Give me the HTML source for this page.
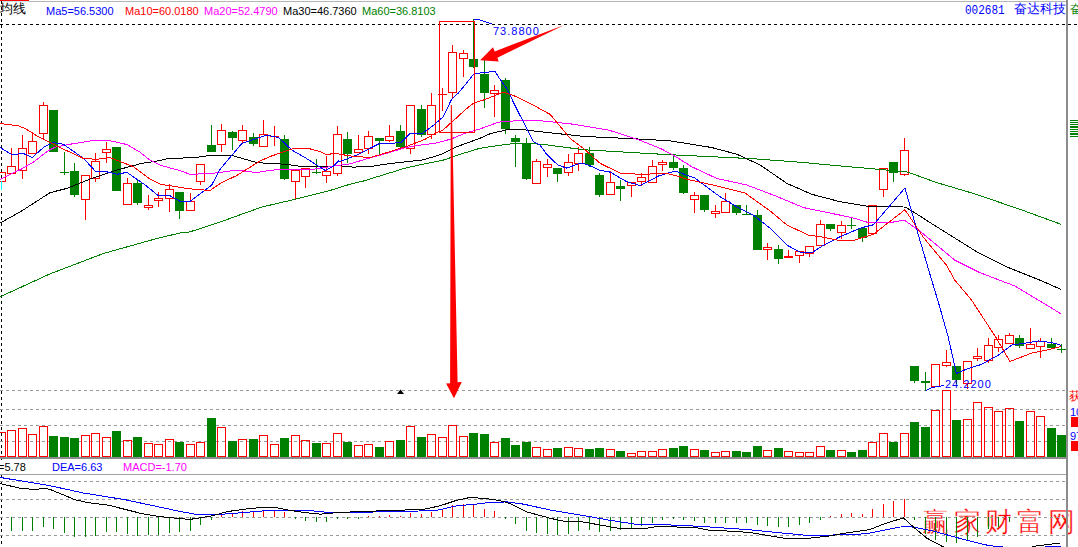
<!DOCTYPE html>
<html><head><meta charset="utf-8">
<style>
html,body{margin:0;padding:0;background:#fff;}
body{width:1078px;height:547px;overflow:hidden;position:relative;font-family:"Liberation Sans", sans-serif;}
svg{position:absolute;left:0;top:0;shape-rendering:crispEdges;}
.t{position:absolute;white-space:nowrap;font-size:11px;line-height:12px;font-family:"Liberation Sans", sans-serif;}
.cj{position:absolute;white-space:nowrap;font-size:12px;line-height:12px;}
</style></head><body>
<div class="cj" style="left:922px;top:508px;font-size:27px;line-height:28px;letter-spacing:4.5px;color:#ff0000;font-family:'Liberation Serif',serif;-webkit-text-stroke:0.35px #fff">赢家财富网</div>
<svg width="1078" height="547" viewBox="0 0 1078 547">
<rect x="0" y="1" width="1066" height="1" fill="#b4b4b4"/>
<rect x="0" y="0" width="29" height="1" fill="#ff0000"/>
<rect x="0" y="1" width="29" height="1" fill="#cfe6e6"/>
<line x1="0" y1="24.5" x2="1078" y2="24.5" stroke="#000000" stroke-width="1" stroke-dasharray="3 3" stroke-dashoffset="0"/>
<line x1="1.5" y1="1" x2="1.5" y2="547" stroke="#000000" stroke-width="1" stroke-dasharray="3 3"/>
<line x1="0" y1="390.5" x2="1066" y2="390.5" stroke="#999999" stroke-width="1" stroke-dasharray="3 3" stroke-dashoffset="0"/>
<line x1="0" y1="409.5" x2="1066" y2="409.5" stroke="#999999" stroke-width="1" stroke-dasharray="3 3" stroke-dashoffset="0"/>
<line x1="0" y1="425.5" x2="1066" y2="425.5" stroke="#999999" stroke-width="1" stroke-dasharray="3 3" stroke-dashoffset="0"/>
<line x1="0" y1="441.5" x2="1066" y2="441.5" stroke="#999999" stroke-width="1" stroke-dasharray="3 3" stroke-dashoffset="0"/>
<line x1="0" y1="481.5" x2="1066" y2="481.5" stroke="#999999" stroke-width="1" stroke-dasharray="3 3" stroke-dashoffset="0"/>
<line x1="0" y1="499.5" x2="1066" y2="499.5" stroke="#999999" stroke-width="1" stroke-dasharray="3 3" stroke-dashoffset="0"/>
<line x1="0" y1="517.5" x2="1066" y2="517.5" stroke="#999999" stroke-width="1" stroke-dasharray="3 3" stroke-dashoffset="0"/>
<line x1="0" y1="535.5" x2="1066" y2="535.5" stroke="#999999" stroke-width="1" stroke-dasharray="3 3" stroke-dashoffset="0"/>
<rect x="-3" y="172" width="9" height="1" fill="#ff0000"/>
<rect x="-3" y="181" width="9" height="1" fill="#ff0000"/>
<rect x="-3" y="172" width="1" height="10" fill="#ff0000"/>
<rect x="5" y="172" width="1" height="10" fill="#ff0000"/>
<rect x="11" y="148" width="1" height="19" fill="#ff0000"/>
<rect x="7" y="166" width="9" height="1" fill="#ff0000"/>
<rect x="7" y="173" width="9" height="1" fill="#ff0000"/>
<rect x="7" y="166" width="1" height="8" fill="#ff0000"/>
<rect x="15" y="166" width="1" height="8" fill="#ff0000"/>
<rect x="22" y="135" width="1" height="14" fill="#ff0000"/>
<rect x="22" y="170" width="1" height="9" fill="#ff0000"/>
<rect x="18" y="148" width="9" height="1" fill="#ff0000"/>
<rect x="18" y="170" width="9" height="1" fill="#ff0000"/>
<rect x="18" y="148" width="1" height="23" fill="#ff0000"/>
<rect x="26" y="148" width="1" height="23" fill="#ff0000"/>
<rect x="32" y="134" width="1" height="8" fill="#ff0000"/>
<rect x="28" y="141" width="9" height="1" fill="#ff0000"/>
<rect x="28" y="153" width="9" height="1" fill="#ff0000"/>
<rect x="28" y="141" width="1" height="13" fill="#ff0000"/>
<rect x="36" y="141" width="1" height="13" fill="#ff0000"/>
<rect x="43" y="102" width="1" height="4" fill="#ff0000"/>
<rect x="43" y="133" width="1" height="7" fill="#ff0000"/>
<rect x="39" y="105" width="9" height="1" fill="#ff0000"/>
<rect x="39" y="133" width="9" height="1" fill="#ff0000"/>
<rect x="39" y="105" width="1" height="29" fill="#ff0000"/>
<rect x="47" y="105" width="1" height="29" fill="#ff0000"/>
<rect x="49" y="110" width="9" height="42" fill="#008000"/>
<rect x="64" y="152" width="1" height="21" fill="#008000"/>
<rect x="64" y="172" width="1" height="3" fill="#008000"/>
<rect x="60" y="172" width="9" height="1" fill="#008000"/>
<rect x="74" y="163" width="1" height="9" fill="#008000"/>
<rect x="74" y="194" width="1" height="3" fill="#008000"/>
<rect x="70" y="171" width="9" height="24" fill="#008000"/>
<rect x="85" y="199" width="1" height="21" fill="#ff0000"/>
<rect x="81" y="175" width="9" height="1" fill="#ff0000"/>
<rect x="81" y="199" width="9" height="1" fill="#ff0000"/>
<rect x="81" y="175" width="1" height="25" fill="#ff0000"/>
<rect x="89" y="175" width="1" height="25" fill="#ff0000"/>
<rect x="95" y="153" width="1" height="9" fill="#ff0000"/>
<rect x="95" y="178" width="1" height="4" fill="#ff0000"/>
<rect x="91" y="161" width="9" height="1" fill="#ff0000"/>
<rect x="91" y="178" width="9" height="1" fill="#ff0000"/>
<rect x="91" y="161" width="1" height="18" fill="#ff0000"/>
<rect x="99" y="161" width="1" height="18" fill="#ff0000"/>
<rect x="106" y="142" width="1" height="8" fill="#ff0000"/>
<rect x="106" y="152" width="1" height="11" fill="#ff0000"/>
<rect x="102" y="149" width="9" height="1" fill="#ff0000"/>
<rect x="102" y="152" width="9" height="1" fill="#ff0000"/>
<rect x="102" y="149" width="1" height="4" fill="#ff0000"/>
<rect x="110" y="149" width="1" height="4" fill="#ff0000"/>
<rect x="112" y="147" width="9" height="44" fill="#008000"/>
<rect x="127" y="178" width="1" height="6" fill="#ff0000"/>
<rect x="123" y="183" width="9" height="1" fill="#ff0000"/>
<rect x="123" y="204" width="9" height="1" fill="#ff0000"/>
<rect x="123" y="183" width="1" height="22" fill="#ff0000"/>
<rect x="131" y="183" width="1" height="22" fill="#ff0000"/>
<rect x="137" y="180" width="1" height="4" fill="#008000"/>
<rect x="137" y="202" width="1" height="3" fill="#008000"/>
<rect x="133" y="183" width="9" height="20" fill="#008000"/>
<rect x="148" y="195" width="1" height="11" fill="#ff0000"/>
<rect x="148" y="207" width="1" height="3" fill="#ff0000"/>
<rect x="144" y="205" width="9" height="1" fill="#ff0000"/>
<rect x="144" y="207" width="9" height="1" fill="#ff0000"/>
<rect x="144" y="205" width="1" height="3" fill="#ff0000"/>
<rect x="152" y="205" width="1" height="3" fill="#ff0000"/>
<rect x="158" y="192" width="1" height="7" fill="#ff0000"/>
<rect x="158" y="200" width="1" height="7" fill="#ff0000"/>
<rect x="154" y="198" width="9" height="1" fill="#ff0000"/>
<rect x="154" y="200" width="9" height="1" fill="#ff0000"/>
<rect x="154" y="198" width="1" height="3" fill="#ff0000"/>
<rect x="162" y="198" width="1" height="3" fill="#ff0000"/>
<rect x="169" y="184" width="1" height="6" fill="#ff0000"/>
<rect x="169" y="198" width="1" height="14" fill="#ff0000"/>
<rect x="165" y="189" width="9" height="1" fill="#ff0000"/>
<rect x="165" y="198" width="9" height="1" fill="#ff0000"/>
<rect x="165" y="189" width="1" height="10" fill="#ff0000"/>
<rect x="173" y="189" width="1" height="10" fill="#ff0000"/>
<rect x="179" y="210" width="1" height="9" fill="#008000"/>
<rect x="175" y="192" width="9" height="19" fill="#008000"/>
<rect x="190" y="193" width="1" height="9" fill="#ff0000"/>
<rect x="186" y="201" width="9" height="1" fill="#ff0000"/>
<rect x="186" y="210" width="9" height="1" fill="#ff0000"/>
<rect x="186" y="201" width="1" height="10" fill="#ff0000"/>
<rect x="194" y="201" width="1" height="10" fill="#ff0000"/>
<rect x="200" y="181" width="1" height="4" fill="#ff0000"/>
<rect x="196" y="164" width="9" height="1" fill="#ff0000"/>
<rect x="196" y="181" width="9" height="1" fill="#ff0000"/>
<rect x="196" y="164" width="1" height="18" fill="#ff0000"/>
<rect x="204" y="164" width="1" height="18" fill="#ff0000"/>
<rect x="211" y="125" width="1" height="21" fill="#008000"/>
<rect x="207" y="145" width="9" height="7" fill="#008000"/>
<rect x="221" y="124" width="1" height="7" fill="#ff0000"/>
<rect x="221" y="144" width="1" height="8" fill="#ff0000"/>
<rect x="217" y="130" width="9" height="1" fill="#ff0000"/>
<rect x="217" y="144" width="9" height="1" fill="#ff0000"/>
<rect x="217" y="130" width="1" height="15" fill="#ff0000"/>
<rect x="225" y="130" width="1" height="15" fill="#ff0000"/>
<rect x="232" y="131" width="1" height="2" fill="#008000"/>
<rect x="232" y="137" width="1" height="13" fill="#008000"/>
<rect x="228" y="132" width="9" height="6" fill="#008000"/>
<rect x="242" y="125" width="1" height="6" fill="#ff0000"/>
<rect x="242" y="140" width="1" height="4" fill="#ff0000"/>
<rect x="238" y="130" width="9" height="1" fill="#ff0000"/>
<rect x="238" y="140" width="9" height="1" fill="#ff0000"/>
<rect x="238" y="130" width="1" height="11" fill="#ff0000"/>
<rect x="246" y="130" width="1" height="11" fill="#ff0000"/>
<rect x="253" y="133" width="1" height="5" fill="#008000"/>
<rect x="253" y="143" width="1" height="3" fill="#008000"/>
<rect x="249" y="137" width="9" height="7" fill="#008000"/>
<rect x="263" y="120" width="1" height="15" fill="#ff0000"/>
<rect x="259" y="134" width="9" height="1" fill="#ff0000"/>
<rect x="259" y="146" width="9" height="1" fill="#ff0000"/>
<rect x="259" y="134" width="1" height="13" fill="#ff0000"/>
<rect x="267" y="134" width="1" height="13" fill="#ff0000"/>
<rect x="274" y="126" width="1" height="11" fill="#ff0000"/>
<rect x="274" y="136" width="1" height="10" fill="#ff0000"/>
<rect x="270" y="136" width="9" height="1" fill="#ff0000"/>
<rect x="284" y="135" width="1" height="5" fill="#008000"/>
<rect x="284" y="178" width="1" height="2" fill="#008000"/>
<rect x="280" y="139" width="9" height="40" fill="#008000"/>
<rect x="295" y="181" width="1" height="19" fill="#ff0000"/>
<rect x="291" y="170" width="9" height="1" fill="#ff0000"/>
<rect x="291" y="181" width="9" height="1" fill="#ff0000"/>
<rect x="291" y="170" width="1" height="12" fill="#ff0000"/>
<rect x="299" y="170" width="1" height="12" fill="#ff0000"/>
<rect x="305" y="176" width="1" height="12" fill="#ff0000"/>
<rect x="301" y="168" width="9" height="1" fill="#ff0000"/>
<rect x="301" y="176" width="9" height="1" fill="#ff0000"/>
<rect x="301" y="168" width="1" height="9" fill="#ff0000"/>
<rect x="309" y="168" width="1" height="9" fill="#ff0000"/>
<rect x="316" y="159" width="1" height="14" fill="#008000"/>
<rect x="316" y="172" width="1" height="2" fill="#008000"/>
<rect x="312" y="172" width="9" height="1" fill="#008000"/>
<rect x="326" y="156" width="1" height="16" fill="#ff0000"/>
<rect x="326" y="175" width="1" height="8" fill="#ff0000"/>
<rect x="322" y="171" width="9" height="1" fill="#ff0000"/>
<rect x="322" y="175" width="9" height="1" fill="#ff0000"/>
<rect x="322" y="171" width="1" height="5" fill="#ff0000"/>
<rect x="330" y="171" width="1" height="5" fill="#ff0000"/>
<rect x="337" y="126" width="1" height="9" fill="#ff0000"/>
<rect x="337" y="173" width="1" height="3" fill="#ff0000"/>
<rect x="333" y="134" width="9" height="1" fill="#ff0000"/>
<rect x="333" y="173" width="9" height="1" fill="#ff0000"/>
<rect x="333" y="134" width="1" height="40" fill="#ff0000"/>
<rect x="341" y="134" width="1" height="40" fill="#ff0000"/>
<rect x="347" y="132" width="1" height="8" fill="#008000"/>
<rect x="347" y="153" width="1" height="10" fill="#008000"/>
<rect x="343" y="139" width="9" height="15" fill="#008000"/>
<rect x="358" y="135" width="1" height="15" fill="#ff0000"/>
<rect x="354" y="149" width="9" height="1" fill="#ff0000"/>
<rect x="354" y="152" width="9" height="1" fill="#ff0000"/>
<rect x="354" y="149" width="1" height="4" fill="#ff0000"/>
<rect x="362" y="149" width="1" height="4" fill="#ff0000"/>
<rect x="368" y="131" width="1" height="6" fill="#ff0000"/>
<rect x="368" y="148" width="1" height="6" fill="#ff0000"/>
<rect x="364" y="136" width="9" height="1" fill="#ff0000"/>
<rect x="364" y="148" width="9" height="1" fill="#ff0000"/>
<rect x="364" y="136" width="1" height="13" fill="#ff0000"/>
<rect x="372" y="136" width="1" height="13" fill="#ff0000"/>
<rect x="379" y="140" width="1" height="15" fill="#008000"/>
<rect x="375" y="138" width="9" height="3" fill="#008000"/>
<rect x="389" y="125" width="1" height="12" fill="#ff0000"/>
<rect x="389" y="140" width="1" height="2" fill="#ff0000"/>
<rect x="385" y="136" width="9" height="1" fill="#ff0000"/>
<rect x="385" y="140" width="9" height="1" fill="#ff0000"/>
<rect x="385" y="136" width="1" height="5" fill="#ff0000"/>
<rect x="393" y="136" width="1" height="5" fill="#ff0000"/>
<rect x="400" y="125" width="1" height="7" fill="#008000"/>
<rect x="400" y="146" width="1" height="3" fill="#008000"/>
<rect x="396" y="131" width="9" height="16" fill="#008000"/>
<rect x="410" y="148" width="1" height="6" fill="#ff0000"/>
<rect x="406" y="105" width="9" height="1" fill="#ff0000"/>
<rect x="406" y="148" width="9" height="1" fill="#ff0000"/>
<rect x="406" y="105" width="1" height="44" fill="#ff0000"/>
<rect x="414" y="105" width="1" height="44" fill="#ff0000"/>
<rect x="421" y="105" width="1" height="5" fill="#008000"/>
<rect x="421" y="134" width="1" height="3" fill="#008000"/>
<rect x="417" y="109" width="9" height="26" fill="#008000"/>
<rect x="431" y="93" width="1" height="13" fill="#ff0000"/>
<rect x="431" y="134" width="1" height="5" fill="#ff0000"/>
<rect x="427" y="105" width="9" height="1" fill="#ff0000"/>
<rect x="427" y="134" width="9" height="1" fill="#ff0000"/>
<rect x="427" y="105" width="1" height="30" fill="#ff0000"/>
<rect x="435" y="105" width="1" height="30" fill="#ff0000"/>
<rect x="442" y="88" width="1" height="7" fill="#ff0000"/>
<rect x="442" y="94" width="1" height="17" fill="#ff0000"/>
<rect x="438" y="94" width="9" height="1" fill="#ff0000"/>
<rect x="452" y="45" width="1" height="8" fill="#ff0000"/>
<rect x="452" y="92" width="1" height="6" fill="#ff0000"/>
<rect x="448" y="52" width="9" height="1" fill="#ff0000"/>
<rect x="448" y="92" width="9" height="1" fill="#ff0000"/>
<rect x="448" y="52" width="1" height="41" fill="#ff0000"/>
<rect x="456" y="52" width="1" height="41" fill="#ff0000"/>
<rect x="463" y="50" width="1" height="4" fill="#ff0000"/>
<rect x="463" y="58" width="1" height="19" fill="#ff0000"/>
<rect x="459" y="53" width="9" height="1" fill="#ff0000"/>
<rect x="459" y="58" width="9" height="1" fill="#ff0000"/>
<rect x="459" y="53" width="1" height="6" fill="#ff0000"/>
<rect x="467" y="53" width="1" height="6" fill="#ff0000"/>
<rect x="473" y="19" width="1" height="41" fill="#008000"/>
<rect x="473" y="66" width="1" height="2" fill="#008000"/>
<rect x="469" y="59" width="9" height="8" fill="#008000"/>
<rect x="484" y="60" width="1" height="14" fill="#008000"/>
<rect x="484" y="92" width="1" height="16" fill="#008000"/>
<rect x="480" y="74" width="9" height="19" fill="#008000"/>
<rect x="494" y="85" width="1" height="6" fill="#ff0000"/>
<rect x="494" y="93" width="1" height="24" fill="#ff0000"/>
<rect x="490" y="90" width="9" height="1" fill="#ff0000"/>
<rect x="490" y="93" width="9" height="1" fill="#ff0000"/>
<rect x="490" y="90" width="1" height="4" fill="#ff0000"/>
<rect x="498" y="90" width="1" height="4" fill="#ff0000"/>
<rect x="505" y="78" width="1" height="3" fill="#008000"/>
<rect x="505" y="128" width="1" height="6" fill="#008000"/>
<rect x="501" y="80" width="9" height="49" fill="#008000"/>
<rect x="515" y="135" width="1" height="4" fill="#008000"/>
<rect x="515" y="141" width="1" height="26" fill="#008000"/>
<rect x="511" y="138" width="9" height="4" fill="#008000"/>
<rect x="526" y="138" width="1" height="6" fill="#008000"/>
<rect x="526" y="178" width="1" height="2" fill="#008000"/>
<rect x="522" y="143" width="9" height="36" fill="#008000"/>
<rect x="536" y="159" width="1" height="3" fill="#ff0000"/>
<rect x="532" y="161" width="9" height="1" fill="#ff0000"/>
<rect x="532" y="183" width="9" height="1" fill="#ff0000"/>
<rect x="532" y="161" width="1" height="23" fill="#ff0000"/>
<rect x="540" y="161" width="1" height="23" fill="#ff0000"/>
<rect x="547" y="159" width="1" height="6" fill="#ff0000"/>
<rect x="547" y="167" width="1" height="10" fill="#ff0000"/>
<rect x="543" y="164" width="9" height="1" fill="#ff0000"/>
<rect x="543" y="167" width="9" height="1" fill="#ff0000"/>
<rect x="543" y="164" width="1" height="4" fill="#ff0000"/>
<rect x="551" y="164" width="1" height="4" fill="#ff0000"/>
<rect x="557" y="173" width="1" height="9" fill="#008000"/>
<rect x="553" y="168" width="9" height="6" fill="#008000"/>
<rect x="568" y="154" width="1" height="9" fill="#ff0000"/>
<rect x="568" y="172" width="1" height="4" fill="#ff0000"/>
<rect x="564" y="162" width="9" height="1" fill="#ff0000"/>
<rect x="564" y="172" width="9" height="1" fill="#ff0000"/>
<rect x="564" y="162" width="1" height="11" fill="#ff0000"/>
<rect x="572" y="162" width="1" height="11" fill="#ff0000"/>
<rect x="578" y="147" width="1" height="7" fill="#ff0000"/>
<rect x="578" y="163" width="1" height="8" fill="#ff0000"/>
<rect x="574" y="153" width="9" height="1" fill="#ff0000"/>
<rect x="574" y="163" width="9" height="1" fill="#ff0000"/>
<rect x="574" y="153" width="1" height="11" fill="#ff0000"/>
<rect x="582" y="153" width="1" height="11" fill="#ff0000"/>
<rect x="589" y="147" width="1" height="7" fill="#008000"/>
<rect x="589" y="164" width="1" height="3" fill="#008000"/>
<rect x="585" y="153" width="9" height="12" fill="#008000"/>
<rect x="599" y="173" width="1" height="3" fill="#008000"/>
<rect x="599" y="194" width="1" height="3" fill="#008000"/>
<rect x="595" y="175" width="9" height="20" fill="#008000"/>
<rect x="610" y="171" width="1" height="12" fill="#ff0000"/>
<rect x="606" y="182" width="9" height="1" fill="#ff0000"/>
<rect x="606" y="194" width="9" height="1" fill="#ff0000"/>
<rect x="606" y="182" width="1" height="13" fill="#ff0000"/>
<rect x="614" y="182" width="1" height="13" fill="#ff0000"/>
<rect x="620" y="180" width="1" height="7" fill="#008000"/>
<rect x="620" y="188" width="1" height="13" fill="#008000"/>
<rect x="616" y="186" width="9" height="3" fill="#008000"/>
<rect x="631" y="185" width="1" height="12" fill="#ff0000"/>
<rect x="627" y="182" width="9" height="1" fill="#ff0000"/>
<rect x="627" y="185" width="9" height="1" fill="#ff0000"/>
<rect x="627" y="182" width="1" height="4" fill="#ff0000"/>
<rect x="635" y="182" width="1" height="4" fill="#ff0000"/>
<rect x="641" y="173" width="1" height="5" fill="#ff0000"/>
<rect x="641" y="181" width="1" height="5" fill="#ff0000"/>
<rect x="637" y="177" width="9" height="1" fill="#ff0000"/>
<rect x="637" y="181" width="9" height="1" fill="#ff0000"/>
<rect x="637" y="177" width="1" height="5" fill="#ff0000"/>
<rect x="645" y="177" width="1" height="5" fill="#ff0000"/>
<rect x="652" y="160" width="1" height="7" fill="#ff0000"/>
<rect x="648" y="166" width="9" height="1" fill="#ff0000"/>
<rect x="648" y="182" width="9" height="1" fill="#ff0000"/>
<rect x="648" y="166" width="1" height="17" fill="#ff0000"/>
<rect x="656" y="166" width="1" height="17" fill="#ff0000"/>
<rect x="662" y="160" width="1" height="3" fill="#ff0000"/>
<rect x="662" y="164" width="1" height="7" fill="#ff0000"/>
<rect x="658" y="162" width="9" height="1" fill="#ff0000"/>
<rect x="658" y="164" width="9" height="1" fill="#ff0000"/>
<rect x="658" y="162" width="1" height="3" fill="#ff0000"/>
<rect x="666" y="162" width="1" height="3" fill="#ff0000"/>
<rect x="673" y="155" width="1" height="8" fill="#008000"/>
<rect x="673" y="167" width="1" height="3" fill="#008000"/>
<rect x="669" y="162" width="9" height="6" fill="#008000"/>
<rect x="683" y="165" width="1" height="4" fill="#008000"/>
<rect x="683" y="192" width="1" height="2" fill="#008000"/>
<rect x="679" y="168" width="9" height="25" fill="#008000"/>
<rect x="694" y="192" width="1" height="4" fill="#ff0000"/>
<rect x="694" y="199" width="1" height="14" fill="#ff0000"/>
<rect x="690" y="195" width="9" height="1" fill="#ff0000"/>
<rect x="690" y="199" width="9" height="1" fill="#ff0000"/>
<rect x="690" y="195" width="1" height="5" fill="#ff0000"/>
<rect x="698" y="195" width="1" height="5" fill="#ff0000"/>
<rect x="704" y="209" width="1" height="3" fill="#008000"/>
<rect x="700" y="195" width="9" height="15" fill="#008000"/>
<rect x="715" y="205" width="1" height="7" fill="#ff0000"/>
<rect x="715" y="213" width="1" height="5" fill="#ff0000"/>
<rect x="711" y="211" width="9" height="1" fill="#ff0000"/>
<rect x="711" y="213" width="9" height="1" fill="#ff0000"/>
<rect x="711" y="211" width="1" height="3" fill="#ff0000"/>
<rect x="719" y="211" width="1" height="3" fill="#ff0000"/>
<rect x="725" y="193" width="1" height="9" fill="#ff0000"/>
<rect x="721" y="201" width="9" height="1" fill="#ff0000"/>
<rect x="721" y="212" width="9" height="1" fill="#ff0000"/>
<rect x="721" y="201" width="1" height="12" fill="#ff0000"/>
<rect x="729" y="201" width="1" height="12" fill="#ff0000"/>
<rect x="736" y="212" width="1" height="3" fill="#008000"/>
<rect x="732" y="205" width="9" height="8" fill="#008000"/>
<rect x="746" y="205" width="1" height="10" fill="#008000"/>
<rect x="742" y="214" width="9" height="1" fill="#008000"/>
<rect x="757" y="210" width="1" height="6" fill="#008000"/>
<rect x="753" y="215" width="9" height="35" fill="#008000"/>
<rect x="767" y="243" width="1" height="5" fill="#ff0000"/>
<rect x="767" y="249" width="1" height="11" fill="#ff0000"/>
<rect x="763" y="247" width="9" height="1" fill="#ff0000"/>
<rect x="763" y="249" width="9" height="1" fill="#ff0000"/>
<rect x="763" y="247" width="1" height="3" fill="#ff0000"/>
<rect x="771" y="247" width="1" height="3" fill="#ff0000"/>
<rect x="778" y="245" width="1" height="5" fill="#008000"/>
<rect x="778" y="258" width="1" height="6" fill="#008000"/>
<rect x="774" y="249" width="9" height="10" fill="#008000"/>
<rect x="788" y="250" width="1" height="7" fill="#ff0000"/>
<rect x="784" y="256" width="9" height="2" fill="#ff0000"/>
<rect x="799" y="255" width="1" height="8" fill="#ff0000"/>
<rect x="795" y="251" width="9" height="1" fill="#ff0000"/>
<rect x="795" y="255" width="9" height="1" fill="#ff0000"/>
<rect x="795" y="251" width="1" height="5" fill="#ff0000"/>
<rect x="803" y="251" width="1" height="5" fill="#ff0000"/>
<rect x="809" y="253" width="1" height="4" fill="#ff0000"/>
<rect x="805" y="246" width="9" height="1" fill="#ff0000"/>
<rect x="805" y="253" width="9" height="1" fill="#ff0000"/>
<rect x="805" y="246" width="1" height="8" fill="#ff0000"/>
<rect x="813" y="246" width="1" height="8" fill="#ff0000"/>
<rect x="820" y="220" width="1" height="5" fill="#ff0000"/>
<rect x="816" y="224" width="9" height="1" fill="#ff0000"/>
<rect x="816" y="245" width="9" height="1" fill="#ff0000"/>
<rect x="816" y="224" width="1" height="22" fill="#ff0000"/>
<rect x="824" y="224" width="1" height="22" fill="#ff0000"/>
<rect x="830" y="228" width="1" height="3" fill="#008000"/>
<rect x="826" y="224" width="9" height="5" fill="#008000"/>
<rect x="841" y="221" width="1" height="5" fill="#ff0000"/>
<rect x="841" y="232" width="1" height="7" fill="#ff0000"/>
<rect x="837" y="225" width="9" height="1" fill="#ff0000"/>
<rect x="837" y="232" width="9" height="1" fill="#ff0000"/>
<rect x="837" y="225" width="1" height="8" fill="#ff0000"/>
<rect x="845" y="225" width="1" height="8" fill="#ff0000"/>
<rect x="851" y="218" width="1" height="8" fill="#008000"/>
<rect x="851" y="225" width="1" height="4" fill="#008000"/>
<rect x="847" y="225" width="9" height="1" fill="#008000"/>
<rect x="862" y="237" width="1" height="5" fill="#008000"/>
<rect x="858" y="228" width="9" height="10" fill="#008000"/>
<rect x="868" y="205" width="9" height="1" fill="#ff0000"/>
<rect x="868" y="233" width="9" height="1" fill="#ff0000"/>
<rect x="868" y="205" width="1" height="29" fill="#ff0000"/>
<rect x="876" y="205" width="1" height="29" fill="#ff0000"/>
<rect x="883" y="189" width="1" height="8" fill="#ff0000"/>
<rect x="879" y="168" width="9" height="1" fill="#ff0000"/>
<rect x="879" y="189" width="9" height="1" fill="#ff0000"/>
<rect x="879" y="168" width="1" height="22" fill="#ff0000"/>
<rect x="887" y="168" width="1" height="22" fill="#ff0000"/>
<rect x="893" y="172" width="1" height="10" fill="#008000"/>
<rect x="889" y="162" width="9" height="11" fill="#008000"/>
<rect x="904" y="138" width="1" height="13" fill="#ff0000"/>
<rect x="904" y="174" width="1" height="2" fill="#ff0000"/>
<rect x="900" y="150" width="9" height="1" fill="#ff0000"/>
<rect x="900" y="174" width="9" height="1" fill="#ff0000"/>
<rect x="900" y="150" width="1" height="25" fill="#ff0000"/>
<rect x="908" y="150" width="1" height="25" fill="#ff0000"/>
<rect x="914" y="380" width="1" height="3" fill="#008000"/>
<rect x="910" y="366" width="9" height="15" fill="#008000"/>
<rect x="925" y="372" width="1" height="10" fill="#008000"/>
<rect x="925" y="381" width="1" height="10" fill="#008000"/>
<rect x="921" y="381" width="9" height="2" fill="#008000"/>
<rect x="931" y="364" width="9" height="1" fill="#ff0000"/>
<rect x="931" y="386" width="9" height="1" fill="#ff0000"/>
<rect x="931" y="364" width="1" height="23" fill="#ff0000"/>
<rect x="939" y="364" width="1" height="23" fill="#ff0000"/>
<rect x="946" y="350" width="1" height="13" fill="#ff0000"/>
<rect x="946" y="365" width="1" height="2" fill="#ff0000"/>
<rect x="942" y="362" width="9" height="1" fill="#ff0000"/>
<rect x="942" y="365" width="9" height="1" fill="#ff0000"/>
<rect x="942" y="362" width="1" height="4" fill="#ff0000"/>
<rect x="950" y="362" width="1" height="4" fill="#ff0000"/>
<rect x="956" y="379" width="1" height="5" fill="#008000"/>
<rect x="952" y="366" width="9" height="14" fill="#008000"/>
<rect x="967" y="383" width="1" height="6" fill="#ff0000"/>
<rect x="963" y="361" width="9" height="1" fill="#ff0000"/>
<rect x="963" y="383" width="9" height="1" fill="#ff0000"/>
<rect x="963" y="361" width="1" height="23" fill="#ff0000"/>
<rect x="971" y="361" width="1" height="23" fill="#ff0000"/>
<rect x="977" y="348" width="1" height="9" fill="#ff0000"/>
<rect x="977" y="358" width="1" height="3" fill="#ff0000"/>
<rect x="973" y="356" width="9" height="1" fill="#ff0000"/>
<rect x="973" y="358" width="9" height="1" fill="#ff0000"/>
<rect x="973" y="356" width="1" height="3" fill="#ff0000"/>
<rect x="981" y="356" width="1" height="3" fill="#ff0000"/>
<rect x="988" y="338" width="1" height="8" fill="#ff0000"/>
<rect x="988" y="360" width="1" height="3" fill="#ff0000"/>
<rect x="984" y="345" width="9" height="1" fill="#ff0000"/>
<rect x="984" y="360" width="9" height="1" fill="#ff0000"/>
<rect x="984" y="345" width="1" height="16" fill="#ff0000"/>
<rect x="992" y="345" width="1" height="16" fill="#ff0000"/>
<rect x="998" y="335" width="1" height="5" fill="#ff0000"/>
<rect x="998" y="347" width="1" height="5" fill="#ff0000"/>
<rect x="994" y="339" width="9" height="1" fill="#ff0000"/>
<rect x="994" y="347" width="9" height="1" fill="#ff0000"/>
<rect x="994" y="339" width="1" height="9" fill="#ff0000"/>
<rect x="1002" y="339" width="1" height="9" fill="#ff0000"/>
<rect x="1009" y="333" width="1" height="3" fill="#ff0000"/>
<rect x="1005" y="335" width="9" height="1" fill="#ff0000"/>
<rect x="1005" y="343" width="9" height="1" fill="#ff0000"/>
<rect x="1005" y="335" width="1" height="9" fill="#ff0000"/>
<rect x="1013" y="335" width="1" height="9" fill="#ff0000"/>
<rect x="1019" y="335" width="1" height="3" fill="#008000"/>
<rect x="1019" y="345" width="1" height="3" fill="#008000"/>
<rect x="1015" y="338" width="9" height="8" fill="#008000"/>
<rect x="1030" y="328" width="1" height="17" fill="#ff0000"/>
<rect x="1026" y="344" width="9" height="1" fill="#ff0000"/>
<rect x="1026" y="348" width="9" height="1" fill="#ff0000"/>
<rect x="1026" y="344" width="1" height="5" fill="#ff0000"/>
<rect x="1034" y="344" width="1" height="5" fill="#ff0000"/>
<rect x="1040" y="338" width="1" height="4" fill="#ff0000"/>
<rect x="1040" y="346" width="1" height="12" fill="#ff0000"/>
<rect x="1036" y="341" width="9" height="1" fill="#ff0000"/>
<rect x="1036" y="346" width="9" height="1" fill="#ff0000"/>
<rect x="1036" y="341" width="1" height="6" fill="#ff0000"/>
<rect x="1044" y="341" width="1" height="6" fill="#ff0000"/>
<rect x="1051" y="338" width="1" height="7" fill="#008000"/>
<rect x="1047" y="344" width="9" height="4" fill="#008000"/>
<rect x="1061" y="344" width="1" height="6" fill="#008000"/>
<rect x="1061" y="349" width="1" height="4" fill="#008000"/>
<rect x="1057" y="349" width="9" height="1" fill="#008000"/>
<polyline points="0.03,296.83 50.13,273.83 103.53,253.43 158.63,238.03 180.03,233.03 190.03,231.83 220.03,222.03 261.83,207.03 295.23,199.23 328.63,190.93 350.03,184.23 363.43,181.03 406.83,167.63 444.33,159.83 460.43,154.23 480.03,148.23 506.93,144.33 520.03,143.13 541.73,144.23 583.53,149.73 633.63,152.63 670.03,154.73 753.53,158.73 803.63,162.53 840.03,165.93 906.83,171.83 936.83,182.63 973.63,193.53 1020.03,209.33 1060.83,224.23" fill="none" stroke="#008000" stroke-width="1"/>
<polyline points="0.03,223.13 21.73,210.93 50.13,192.63 66.83,188.43 91.83,178.43 116.93,170.03 141.93,163.33 160.33,160.53 168.63,158.43 195.03,157.63 206.73,155.93 233.43,155.93 256.83,162.63 286.93,164.33 303.63,166.83 340.03,165.83 353.43,167.13 373.43,166.03 390.13,163.53 423.23,159.83 440.33,154.73 455.43,147.23 480.03,138.23 490.23,133.73 506.93,129.73 520.03,129.23 533.43,130.93 583.53,136.43 633.63,138.73 670.03,140.83 711.73,147.53 736.83,154.23 760.23,165.03 786.93,183.43 811.93,194.33 840.13,201.73 868.53,206.43 905.23,207.03 911.93,210.93 931.43,223.43 978.13,252.63 1006.53,266.83 1039.93,280.13 1060.83,289.33" fill="none" stroke="#000000" stroke-width="1"/>
<polyline points="0.03,179.53 10.13,174.33 20.13,169.73 33.23,162.23 42.33,155.23 48.33,150.63 55.13,147.13 70.13,144.23 93.53,140.43 108.53,140.43 126.83,144.53 140.13,152.23 149.03,159.53 160.23,165.03 170.03,168.03 180.03,170.63 190.03,174.33 211.73,173.43 236.83,170.13 256.83,172.63 270.03,170.23 280.03,169.73 310.03,169.73 340.03,165.13 350.03,163.83 373.43,156.83 380.03,155.33 405.13,147.73 415.23,145.73 435.33,143.23 450.43,139.23 465.43,133.13 480.03,128.93 498.63,122.13 520.03,120.43 536.73,120.33 573.53,124.23 608.53,130.03 638.63,139.73 660.33,148.43 671.73,154.23 691.73,166.73 716.73,178.43 746.83,185.03 773.53,195.13 803.63,207.63 823.43,211.73 851.83,217.53 868.53,222.63 890.23,222.63 904.03,220.03 919.73,230.93 954.83,260.13 979.83,272.63 1014.93,286.03 1038.23,300.03 1060.83,313.73" fill="none" stroke="#ff00ff" stroke-width="1"/>
<polyline points="0.03,147.63 11.13,154.13 17.13,154.13 23.13,153.33 32.23,157.63 44.33,146.63 50.03,144.13 53.43,142.63 63.43,144.23 83.53,158.43 95.23,171.03 106.83,171.83 116.93,174.33 126.93,172.33 145.23,185.03 158.63,195.93 170.33,195.93 180.03,201.23 190.03,201.33 211.73,185.03 220.03,169.33 241.83,143.43 256.83,138.43 266.83,135.03 278.53,137.53 291.93,150.03 303.63,156.73 325.33,170.43 333.63,165.93 338.63,160.93 340.03,161.53 356.73,155.13 380.13,143.13 395.13,143.03 401.13,142.23 410.23,133.33 422.23,133.33 428.23,129.13 434.33,124.63 443.33,116.63 451.53,99.33 458.13,93.23 465.03,85.03 473.53,74.33 476.83,73.43 483.53,72.63 490.03,71.83 495.23,71.83 500.03,79.33 506.83,88.53 515.23,106.03 533.43,141.73 540.03,145.03 546.73,154.43 557.83,165.03 566.83,168.13 580.13,163.13 586.83,164.33 600.23,170.43 610.23,172.13 626.93,181.83 640.23,185.53 658.63,175.93 673.63,171.43 675.03,170.93 695.03,178.13 720.13,196.83 736.83,206.73 753.53,215.13 770.23,228.43 786.93,245.13 800.23,252.13 811.93,252.63 823.63,245.13 840.13,236.73 860.13,228.13 873.53,224.73 904.93,188.03 916.93,230.13 931.93,281.03 938.03,301.03 948.13,336.73 956.43,373.53 964.83,369.83 981.53,364.33 998.23,355.13 1011.53,345.13 1024.93,343.13 1038.23,340.93 1051.63,342.63 1060.83,345.13" fill="none" stroke="#0000ff" stroke-width="1"/>
<polyline points="0.03,123.43 18.43,125.93 25.03,128.43 38.43,136.73 58.43,146.83 83.53,158.43 96.83,159.33 110.23,157.63 133.63,166.83 150.33,179.33 160.33,184.33 172.03,186.03 186.73,188.53 210.03,190.53 220.03,183.53 236.83,175.43 260.23,160.93 270.03,156.53 290.03,149.63 295.03,148.33 308.03,148.33 320.03,151.63 325.33,154.23 336.93,153.73 350.03,155.93 356.73,156.43 370.03,157.63 386.73,152.63 407.13,146.23 425.23,139.23 436.33,132.63 442.33,130.63 458.43,116.13 465.83,109.23 473.53,103.13 483.53,100.03 503.53,92.13 516.93,96.83 535.23,106.03 541.73,110.03 550.03,114.23 570.13,138.43 583.53,148.43 600.23,163.43 620.23,173.13 640.23,174.33 667.03,173.43 680.03,176.83 686.73,179.23 711.73,184.73 745.13,193.13 770.23,211.03 786.93,225.03 808.63,235.13 820.33,236.73 836.73,240.03 851.83,240.93 873.53,234.23 904.93,209.73 923.63,237.63 946.43,265.13 954.83,280.13 971.53,300.03 996.53,338.43 1009.93,361.43 1031.63,353.13 1048.33,349.73 1060.83,346.43" fill="none" stroke="#ff0000" stroke-width="1"/>
<rect x="-3" y="432" width="9" height="1" fill="#ff0000"/>
<rect x="-3" y="456" width="9" height="1" fill="#ff0000"/>
<rect x="-3" y="432" width="1" height="25" fill="#ff0000"/>
<rect x="5" y="432" width="1" height="25" fill="#ff0000"/>
<rect x="7" y="430" width="9" height="1" fill="#ff0000"/>
<rect x="7" y="456" width="9" height="1" fill="#ff0000"/>
<rect x="7" y="430" width="1" height="27" fill="#ff0000"/>
<rect x="15" y="430" width="1" height="27" fill="#ff0000"/>
<rect x="18" y="428" width="9" height="1" fill="#ff0000"/>
<rect x="18" y="456" width="9" height="1" fill="#ff0000"/>
<rect x="18" y="428" width="1" height="29" fill="#ff0000"/>
<rect x="26" y="428" width="1" height="29" fill="#ff0000"/>
<rect x="28" y="434" width="9" height="1" fill="#ff0000"/>
<rect x="28" y="456" width="9" height="1" fill="#ff0000"/>
<rect x="28" y="434" width="1" height="23" fill="#ff0000"/>
<rect x="36" y="434" width="1" height="23" fill="#ff0000"/>
<rect x="39" y="426" width="9" height="1" fill="#ff0000"/>
<rect x="39" y="456" width="9" height="1" fill="#ff0000"/>
<rect x="39" y="426" width="1" height="31" fill="#ff0000"/>
<rect x="47" y="426" width="1" height="31" fill="#ff0000"/>
<rect x="49" y="436" width="9" height="21" fill="#008000"/>
<rect x="60" y="437" width="9" height="20" fill="#008000"/>
<rect x="70" y="438" width="9" height="19" fill="#008000"/>
<rect x="81" y="435" width="9" height="1" fill="#ff0000"/>
<rect x="81" y="456" width="9" height="1" fill="#ff0000"/>
<rect x="81" y="435" width="1" height="22" fill="#ff0000"/>
<rect x="89" y="435" width="1" height="22" fill="#ff0000"/>
<rect x="91" y="433" width="9" height="1" fill="#ff0000"/>
<rect x="91" y="456" width="9" height="1" fill="#ff0000"/>
<rect x="91" y="433" width="1" height="24" fill="#ff0000"/>
<rect x="99" y="433" width="1" height="24" fill="#ff0000"/>
<rect x="102" y="437" width="9" height="1" fill="#ff0000"/>
<rect x="102" y="456" width="9" height="1" fill="#ff0000"/>
<rect x="102" y="437" width="1" height="20" fill="#ff0000"/>
<rect x="110" y="437" width="1" height="20" fill="#ff0000"/>
<rect x="112" y="431" width="9" height="26" fill="#008000"/>
<rect x="123" y="440" width="9" height="1" fill="#ff0000"/>
<rect x="123" y="456" width="9" height="1" fill="#ff0000"/>
<rect x="123" y="440" width="1" height="17" fill="#ff0000"/>
<rect x="131" y="440" width="1" height="17" fill="#ff0000"/>
<rect x="133" y="437" width="9" height="20" fill="#008000"/>
<rect x="144" y="443" width="9" height="1" fill="#ff0000"/>
<rect x="144" y="456" width="9" height="1" fill="#ff0000"/>
<rect x="144" y="443" width="1" height="14" fill="#ff0000"/>
<rect x="152" y="443" width="1" height="14" fill="#ff0000"/>
<rect x="154" y="444" width="9" height="1" fill="#ff0000"/>
<rect x="154" y="456" width="9" height="1" fill="#ff0000"/>
<rect x="154" y="444" width="1" height="13" fill="#ff0000"/>
<rect x="162" y="444" width="1" height="13" fill="#ff0000"/>
<rect x="165" y="439" width="9" height="1" fill="#ff0000"/>
<rect x="165" y="456" width="9" height="1" fill="#ff0000"/>
<rect x="165" y="439" width="1" height="18" fill="#ff0000"/>
<rect x="173" y="439" width="1" height="18" fill="#ff0000"/>
<rect x="175" y="442" width="9" height="15" fill="#008000"/>
<rect x="186" y="444" width="9" height="1" fill="#ff0000"/>
<rect x="186" y="456" width="9" height="1" fill="#ff0000"/>
<rect x="186" y="444" width="1" height="13" fill="#ff0000"/>
<rect x="194" y="444" width="1" height="13" fill="#ff0000"/>
<rect x="196" y="442" width="9" height="1" fill="#ff0000"/>
<rect x="196" y="456" width="9" height="1" fill="#ff0000"/>
<rect x="196" y="442" width="1" height="15" fill="#ff0000"/>
<rect x="204" y="442" width="1" height="15" fill="#ff0000"/>
<rect x="207" y="418" width="9" height="39" fill="#008000"/>
<rect x="217" y="427" width="9" height="1" fill="#ff0000"/>
<rect x="217" y="456" width="9" height="1" fill="#ff0000"/>
<rect x="217" y="427" width="1" height="30" fill="#ff0000"/>
<rect x="225" y="427" width="1" height="30" fill="#ff0000"/>
<rect x="228" y="441" width="9" height="16" fill="#008000"/>
<rect x="238" y="439" width="9" height="1" fill="#ff0000"/>
<rect x="238" y="456" width="9" height="1" fill="#ff0000"/>
<rect x="238" y="439" width="1" height="18" fill="#ff0000"/>
<rect x="246" y="439" width="1" height="18" fill="#ff0000"/>
<rect x="249" y="439" width="9" height="18" fill="#008000"/>
<rect x="259" y="435" width="9" height="1" fill="#ff0000"/>
<rect x="259" y="456" width="9" height="1" fill="#ff0000"/>
<rect x="259" y="435" width="1" height="22" fill="#ff0000"/>
<rect x="267" y="435" width="1" height="22" fill="#ff0000"/>
<rect x="270" y="444" width="9" height="1" fill="#ff0000"/>
<rect x="270" y="456" width="9" height="1" fill="#ff0000"/>
<rect x="270" y="444" width="1" height="13" fill="#ff0000"/>
<rect x="278" y="444" width="1" height="13" fill="#ff0000"/>
<rect x="280" y="438" width="9" height="19" fill="#008000"/>
<rect x="291" y="435" width="9" height="1" fill="#ff0000"/>
<rect x="291" y="456" width="9" height="1" fill="#ff0000"/>
<rect x="291" y="435" width="1" height="22" fill="#ff0000"/>
<rect x="299" y="435" width="1" height="22" fill="#ff0000"/>
<rect x="301" y="440" width="9" height="1" fill="#ff0000"/>
<rect x="301" y="456" width="9" height="1" fill="#ff0000"/>
<rect x="301" y="440" width="1" height="17" fill="#ff0000"/>
<rect x="309" y="440" width="1" height="17" fill="#ff0000"/>
<rect x="312" y="443" width="9" height="14" fill="#008000"/>
<rect x="322" y="443" width="9" height="1" fill="#ff0000"/>
<rect x="322" y="456" width="9" height="1" fill="#ff0000"/>
<rect x="322" y="443" width="1" height="14" fill="#ff0000"/>
<rect x="330" y="443" width="1" height="14" fill="#ff0000"/>
<rect x="333" y="433" width="9" height="1" fill="#ff0000"/>
<rect x="333" y="456" width="9" height="1" fill="#ff0000"/>
<rect x="333" y="433" width="1" height="24" fill="#ff0000"/>
<rect x="341" y="433" width="1" height="24" fill="#ff0000"/>
<rect x="343" y="442" width="9" height="15" fill="#008000"/>
<rect x="354" y="445" width="9" height="1" fill="#ff0000"/>
<rect x="354" y="456" width="9" height="1" fill="#ff0000"/>
<rect x="354" y="445" width="1" height="12" fill="#ff0000"/>
<rect x="362" y="445" width="1" height="12" fill="#ff0000"/>
<rect x="364" y="444" width="9" height="1" fill="#ff0000"/>
<rect x="364" y="456" width="9" height="1" fill="#ff0000"/>
<rect x="364" y="444" width="1" height="13" fill="#ff0000"/>
<rect x="372" y="444" width="1" height="13" fill="#ff0000"/>
<rect x="375" y="447" width="9" height="10" fill="#008000"/>
<rect x="385" y="441" width="9" height="1" fill="#ff0000"/>
<rect x="385" y="456" width="9" height="1" fill="#ff0000"/>
<rect x="385" y="441" width="1" height="16" fill="#ff0000"/>
<rect x="393" y="441" width="1" height="16" fill="#ff0000"/>
<rect x="396" y="440" width="9" height="17" fill="#008000"/>
<rect x="406" y="426" width="9" height="1" fill="#ff0000"/>
<rect x="406" y="456" width="9" height="1" fill="#ff0000"/>
<rect x="406" y="426" width="1" height="31" fill="#ff0000"/>
<rect x="414" y="426" width="1" height="31" fill="#ff0000"/>
<rect x="417" y="437" width="9" height="20" fill="#008000"/>
<rect x="427" y="434" width="9" height="1" fill="#ff0000"/>
<rect x="427" y="456" width="9" height="1" fill="#ff0000"/>
<rect x="427" y="434" width="1" height="23" fill="#ff0000"/>
<rect x="435" y="434" width="1" height="23" fill="#ff0000"/>
<rect x="438" y="437" width="9" height="1" fill="#ff0000"/>
<rect x="438" y="456" width="9" height="1" fill="#ff0000"/>
<rect x="438" y="437" width="1" height="20" fill="#ff0000"/>
<rect x="446" y="437" width="1" height="20" fill="#ff0000"/>
<rect x="448" y="425" width="9" height="1" fill="#ff0000"/>
<rect x="448" y="456" width="9" height="1" fill="#ff0000"/>
<rect x="448" y="425" width="1" height="32" fill="#ff0000"/>
<rect x="456" y="425" width="1" height="32" fill="#ff0000"/>
<rect x="459" y="436" width="9" height="1" fill="#ff0000"/>
<rect x="459" y="456" width="9" height="1" fill="#ff0000"/>
<rect x="459" y="436" width="1" height="21" fill="#ff0000"/>
<rect x="467" y="436" width="1" height="21" fill="#ff0000"/>
<rect x="469" y="433" width="9" height="24" fill="#008000"/>
<rect x="480" y="434" width="9" height="23" fill="#008000"/>
<rect x="490" y="442" width="9" height="1" fill="#ff0000"/>
<rect x="490" y="456" width="9" height="1" fill="#ff0000"/>
<rect x="490" y="442" width="1" height="15" fill="#ff0000"/>
<rect x="498" y="442" width="1" height="15" fill="#ff0000"/>
<rect x="501" y="438" width="9" height="19" fill="#008000"/>
<rect x="511" y="445" width="9" height="12" fill="#008000"/>
<rect x="522" y="442" width="9" height="15" fill="#008000"/>
<rect x="532" y="447" width="9" height="1" fill="#ff0000"/>
<rect x="532" y="456" width="9" height="1" fill="#ff0000"/>
<rect x="532" y="447" width="1" height="10" fill="#ff0000"/>
<rect x="540" y="447" width="1" height="10" fill="#ff0000"/>
<rect x="543" y="449" width="9" height="1" fill="#ff0000"/>
<rect x="543" y="456" width="9" height="1" fill="#ff0000"/>
<rect x="543" y="449" width="1" height="8" fill="#ff0000"/>
<rect x="551" y="449" width="1" height="8" fill="#ff0000"/>
<rect x="553" y="448" width="9" height="9" fill="#008000"/>
<rect x="564" y="447" width="9" height="1" fill="#ff0000"/>
<rect x="564" y="456" width="9" height="1" fill="#ff0000"/>
<rect x="564" y="447" width="1" height="10" fill="#ff0000"/>
<rect x="572" y="447" width="1" height="10" fill="#ff0000"/>
<rect x="574" y="448" width="9" height="1" fill="#ff0000"/>
<rect x="574" y="456" width="9" height="1" fill="#ff0000"/>
<rect x="574" y="448" width="1" height="9" fill="#ff0000"/>
<rect x="582" y="448" width="1" height="9" fill="#ff0000"/>
<rect x="585" y="449" width="9" height="8" fill="#008000"/>
<rect x="595" y="448" width="9" height="9" fill="#008000"/>
<rect x="606" y="449" width="9" height="1" fill="#ff0000"/>
<rect x="606" y="456" width="9" height="1" fill="#ff0000"/>
<rect x="606" y="449" width="1" height="8" fill="#ff0000"/>
<rect x="614" y="449" width="1" height="8" fill="#ff0000"/>
<rect x="616" y="451" width="9" height="6" fill="#008000"/>
<rect x="627" y="453" width="9" height="1" fill="#ff0000"/>
<rect x="627" y="456" width="9" height="1" fill="#ff0000"/>
<rect x="627" y="453" width="1" height="4" fill="#ff0000"/>
<rect x="635" y="453" width="1" height="4" fill="#ff0000"/>
<rect x="637" y="451" width="9" height="1" fill="#ff0000"/>
<rect x="637" y="456" width="9" height="1" fill="#ff0000"/>
<rect x="637" y="451" width="1" height="6" fill="#ff0000"/>
<rect x="645" y="451" width="1" height="6" fill="#ff0000"/>
<rect x="648" y="451" width="9" height="1" fill="#ff0000"/>
<rect x="648" y="456" width="9" height="1" fill="#ff0000"/>
<rect x="648" y="451" width="1" height="6" fill="#ff0000"/>
<rect x="656" y="451" width="1" height="6" fill="#ff0000"/>
<rect x="658" y="449" width="9" height="1" fill="#ff0000"/>
<rect x="658" y="456" width="9" height="1" fill="#ff0000"/>
<rect x="658" y="449" width="1" height="8" fill="#ff0000"/>
<rect x="666" y="449" width="1" height="8" fill="#ff0000"/>
<rect x="669" y="448" width="9" height="9" fill="#008000"/>
<rect x="679" y="446" width="9" height="11" fill="#008000"/>
<rect x="690" y="449" width="9" height="1" fill="#ff0000"/>
<rect x="690" y="456" width="9" height="1" fill="#ff0000"/>
<rect x="690" y="449" width="1" height="8" fill="#ff0000"/>
<rect x="698" y="449" width="1" height="8" fill="#ff0000"/>
<rect x="700" y="450" width="9" height="7" fill="#008000"/>
<rect x="711" y="452" width="9" height="1" fill="#ff0000"/>
<rect x="711" y="456" width="9" height="1" fill="#ff0000"/>
<rect x="711" y="452" width="1" height="5" fill="#ff0000"/>
<rect x="719" y="452" width="1" height="5" fill="#ff0000"/>
<rect x="721" y="451" width="9" height="1" fill="#ff0000"/>
<rect x="721" y="456" width="9" height="1" fill="#ff0000"/>
<rect x="721" y="451" width="1" height="6" fill="#ff0000"/>
<rect x="729" y="451" width="1" height="6" fill="#ff0000"/>
<rect x="732" y="451" width="9" height="6" fill="#008000"/>
<rect x="742" y="452" width="9" height="5" fill="#008000"/>
<rect x="753" y="446" width="9" height="11" fill="#008000"/>
<rect x="763" y="450" width="9" height="1" fill="#ff0000"/>
<rect x="763" y="456" width="9" height="1" fill="#ff0000"/>
<rect x="763" y="450" width="1" height="7" fill="#ff0000"/>
<rect x="771" y="450" width="1" height="7" fill="#ff0000"/>
<rect x="774" y="448" width="9" height="9" fill="#008000"/>
<rect x="784" y="451" width="9" height="1" fill="#ff0000"/>
<rect x="784" y="456" width="9" height="1" fill="#ff0000"/>
<rect x="784" y="451" width="1" height="6" fill="#ff0000"/>
<rect x="792" y="451" width="1" height="6" fill="#ff0000"/>
<rect x="795" y="452" width="9" height="1" fill="#ff0000"/>
<rect x="795" y="456" width="9" height="1" fill="#ff0000"/>
<rect x="795" y="452" width="1" height="5" fill="#ff0000"/>
<rect x="803" y="452" width="1" height="5" fill="#ff0000"/>
<rect x="805" y="452" width="9" height="1" fill="#ff0000"/>
<rect x="805" y="456" width="9" height="1" fill="#ff0000"/>
<rect x="805" y="452" width="1" height="5" fill="#ff0000"/>
<rect x="813" y="452" width="1" height="5" fill="#ff0000"/>
<rect x="816" y="446" width="9" height="1" fill="#ff0000"/>
<rect x="816" y="456" width="9" height="1" fill="#ff0000"/>
<rect x="816" y="446" width="1" height="11" fill="#ff0000"/>
<rect x="824" y="446" width="1" height="11" fill="#ff0000"/>
<rect x="826" y="450" width="9" height="7" fill="#008000"/>
<rect x="837" y="450" width="9" height="1" fill="#ff0000"/>
<rect x="837" y="456" width="9" height="1" fill="#ff0000"/>
<rect x="837" y="450" width="1" height="7" fill="#ff0000"/>
<rect x="845" y="450" width="1" height="7" fill="#ff0000"/>
<rect x="847" y="452" width="9" height="5" fill="#008000"/>
<rect x="858" y="450" width="9" height="7" fill="#008000"/>
<rect x="868" y="442" width="9" height="1" fill="#ff0000"/>
<rect x="868" y="456" width="9" height="1" fill="#ff0000"/>
<rect x="868" y="442" width="1" height="15" fill="#ff0000"/>
<rect x="876" y="442" width="1" height="15" fill="#ff0000"/>
<rect x="879" y="433" width="9" height="1" fill="#ff0000"/>
<rect x="879" y="456" width="9" height="1" fill="#ff0000"/>
<rect x="879" y="433" width="1" height="24" fill="#ff0000"/>
<rect x="887" y="433" width="1" height="24" fill="#ff0000"/>
<rect x="889" y="442" width="9" height="15" fill="#008000"/>
<rect x="900" y="433" width="9" height="1" fill="#ff0000"/>
<rect x="900" y="456" width="9" height="1" fill="#ff0000"/>
<rect x="900" y="433" width="1" height="24" fill="#ff0000"/>
<rect x="908" y="433" width="1" height="24" fill="#ff0000"/>
<rect x="910" y="422" width="9" height="35" fill="#008000"/>
<rect x="921" y="427" width="9" height="30" fill="#008000"/>
<rect x="931" y="410" width="9" height="1" fill="#ff0000"/>
<rect x="931" y="456" width="9" height="1" fill="#ff0000"/>
<rect x="931" y="410" width="1" height="47" fill="#ff0000"/>
<rect x="939" y="410" width="1" height="47" fill="#ff0000"/>
<rect x="942" y="390" width="9" height="1" fill="#ff0000"/>
<rect x="942" y="456" width="9" height="1" fill="#ff0000"/>
<rect x="942" y="390" width="1" height="67" fill="#ff0000"/>
<rect x="950" y="390" width="1" height="67" fill="#ff0000"/>
<rect x="952" y="420" width="9" height="37" fill="#008000"/>
<rect x="963" y="419" width="9" height="1" fill="#ff0000"/>
<rect x="963" y="456" width="9" height="1" fill="#ff0000"/>
<rect x="963" y="419" width="1" height="38" fill="#ff0000"/>
<rect x="971" y="419" width="1" height="38" fill="#ff0000"/>
<rect x="973" y="402" width="9" height="1" fill="#ff0000"/>
<rect x="973" y="456" width="9" height="1" fill="#ff0000"/>
<rect x="973" y="402" width="1" height="55" fill="#ff0000"/>
<rect x="981" y="402" width="1" height="55" fill="#ff0000"/>
<rect x="984" y="407" width="9" height="1" fill="#ff0000"/>
<rect x="984" y="456" width="9" height="1" fill="#ff0000"/>
<rect x="984" y="407" width="1" height="50" fill="#ff0000"/>
<rect x="992" y="407" width="1" height="50" fill="#ff0000"/>
<rect x="994" y="411" width="9" height="1" fill="#ff0000"/>
<rect x="994" y="456" width="9" height="1" fill="#ff0000"/>
<rect x="994" y="411" width="1" height="46" fill="#ff0000"/>
<rect x="1002" y="411" width="1" height="46" fill="#ff0000"/>
<rect x="1005" y="408" width="9" height="1" fill="#ff0000"/>
<rect x="1005" y="456" width="9" height="1" fill="#ff0000"/>
<rect x="1005" y="408" width="1" height="49" fill="#ff0000"/>
<rect x="1013" y="408" width="1" height="49" fill="#ff0000"/>
<rect x="1015" y="421" width="9" height="36" fill="#008000"/>
<rect x="1026" y="411" width="9" height="1" fill="#ff0000"/>
<rect x="1026" y="456" width="9" height="1" fill="#ff0000"/>
<rect x="1026" y="411" width="1" height="46" fill="#ff0000"/>
<rect x="1034" y="411" width="1" height="46" fill="#ff0000"/>
<rect x="1036" y="416" width="9" height="1" fill="#ff0000"/>
<rect x="1036" y="456" width="9" height="1" fill="#ff0000"/>
<rect x="1036" y="416" width="1" height="41" fill="#ff0000"/>
<rect x="1044" y="416" width="1" height="41" fill="#ff0000"/>
<rect x="1047" y="428" width="9" height="29" fill="#008000"/>
<rect x="1057" y="435" width="9" height="22" fill="#008000"/>
<rect x="0" y="457" width="1066" height="2" fill="#8c8c8c"/>
<rect x="0" y="474" width="1066" height="1" fill="#a0a0a0"/>
<rect x="11" y="517" width="1" height="14" fill="#008000"/>
<rect x="22" y="517" width="1" height="14" fill="#008000"/>
<rect x="32" y="517" width="1" height="14" fill="#008000"/>
<rect x="43" y="517" width="1" height="10" fill="#008000"/>
<rect x="53" y="517" width="1" height="12" fill="#008000"/>
<rect x="64" y="517" width="1" height="16" fill="#008000"/>
<rect x="74" y="517" width="1" height="20" fill="#008000"/>
<rect x="85" y="517" width="1" height="20" fill="#008000"/>
<rect x="95" y="517" width="1" height="19" fill="#008000"/>
<rect x="106" y="517" width="1" height="15" fill="#008000"/>
<rect x="116" y="517" width="1" height="15" fill="#008000"/>
<rect x="127" y="517" width="1" height="17" fill="#008000"/>
<rect x="137" y="517" width="1" height="19" fill="#008000"/>
<rect x="148" y="517" width="1" height="18" fill="#008000"/>
<rect x="158" y="517" width="1" height="18" fill="#008000"/>
<rect x="169" y="517" width="1" height="16" fill="#008000"/>
<rect x="179" y="517" width="1" height="15" fill="#008000"/>
<rect x="190" y="517" width="1" height="14" fill="#008000"/>
<rect x="200" y="517" width="1" height="8" fill="#008000"/>
<rect x="211" y="517" width="1" height="3" fill="#008000"/>
<rect x="221" y="515" width="1" height="2" fill="#ff0000"/>
<rect x="232" y="513" width="1" height="4" fill="#ff0000"/>
<rect x="242" y="511" width="1" height="6" fill="#ff0000"/>
<rect x="253" y="511" width="1" height="6" fill="#ff0000"/>
<rect x="263" y="511" width="1" height="6" fill="#ff0000"/>
<rect x="274" y="511" width="1" height="6" fill="#ff0000"/>
<rect x="284" y="512" width="1" height="5" fill="#ff0000"/>
<rect x="295" y="517" width="1" height="2" fill="#008000"/>
<rect x="305" y="517" width="1" height="4" fill="#008000"/>
<rect x="316" y="517" width="1" height="5" fill="#008000"/>
<rect x="326" y="517" width="1" height="5" fill="#008000"/>
<rect x="337" y="517" width="1" height="2" fill="#008000"/>
<rect x="347" y="517" width="1" height="2" fill="#008000"/>
<rect x="358" y="517" width="1" height="2" fill="#008000"/>
<rect x="368" y="516" width="1" height="1" fill="#ff0000"/>
<rect x="379" y="516" width="1" height="1" fill="#ff0000"/>
<rect x="389" y="515" width="1" height="2" fill="#ff0000"/>
<rect x="400" y="516" width="1" height="1" fill="#ff0000"/>
<rect x="410" y="513" width="1" height="4" fill="#ff0000"/>
<rect x="421" y="514" width="1" height="3" fill="#ff0000"/>
<rect x="431" y="512" width="1" height="5" fill="#ff0000"/>
<rect x="442" y="510" width="1" height="7" fill="#ff0000"/>
<rect x="452" y="505" width="1" height="12" fill="#ff0000"/>
<rect x="463" y="504" width="1" height="13" fill="#ff0000"/>
<rect x="473" y="504" width="1" height="13" fill="#ff0000"/>
<rect x="484" y="509" width="1" height="8" fill="#ff0000"/>
<rect x="494" y="511" width="1" height="6" fill="#ff0000"/>
<rect x="505" y="517" width="1" height="2" fill="#008000"/>
<rect x="515" y="517" width="1" height="7" fill="#008000"/>
<rect x="526" y="517" width="1" height="14" fill="#008000"/>
<rect x="536" y="517" width="1" height="16" fill="#008000"/>
<rect x="547" y="517" width="1" height="17" fill="#008000"/>
<rect x="557" y="517" width="1" height="18" fill="#008000"/>
<rect x="568" y="517" width="1" height="17" fill="#008000"/>
<rect x="578" y="517" width="1" height="14" fill="#008000"/>
<rect x="589" y="517" width="1" height="13" fill="#008000"/>
<rect x="599" y="517" width="1" height="15" fill="#008000"/>
<rect x="610" y="517" width="1" height="14" fill="#008000"/>
<rect x="620" y="517" width="1" height="13" fill="#008000"/>
<rect x="631" y="517" width="1" height="12" fill="#008000"/>
<rect x="641" y="517" width="1" height="9" fill="#008000"/>
<rect x="652" y="517" width="1" height="6" fill="#008000"/>
<rect x="662" y="517" width="1" height="3" fill="#008000"/>
<rect x="673" y="517" width="1" height="2" fill="#008000"/>
<rect x="683" y="517" width="1" height="3" fill="#008000"/>
<rect x="694" y="517" width="1" height="4" fill="#008000"/>
<rect x="704" y="517" width="1" height="6" fill="#008000"/>
<rect x="715" y="517" width="1" height="6" fill="#008000"/>
<rect x="725" y="517" width="1" height="6" fill="#008000"/>
<rect x="736" y="517" width="1" height="6" fill="#008000"/>
<rect x="746" y="517" width="1" height="6" fill="#008000"/>
<rect x="757" y="517" width="1" height="8" fill="#008000"/>
<rect x="767" y="517" width="1" height="9" fill="#008000"/>
<rect x="778" y="517" width="1" height="10" fill="#008000"/>
<rect x="788" y="517" width="1" height="10" fill="#008000"/>
<rect x="799" y="517" width="1" height="8" fill="#008000"/>
<rect x="809" y="517" width="1" height="6" fill="#008000"/>
<rect x="820" y="517" width="1" height="3" fill="#008000"/>
<rect x="830" y="516" width="1" height="1" fill="#ff0000"/>
<rect x="841" y="514" width="1" height="3" fill="#ff0000"/>
<rect x="851" y="513" width="1" height="4" fill="#ff0000"/>
<rect x="862" y="514" width="1" height="3" fill="#ff0000"/>
<rect x="872" y="509" width="1" height="8" fill="#ff0000"/>
<rect x="883" y="504" width="1" height="13" fill="#ff0000"/>
<rect x="893" y="501" width="1" height="16" fill="#ff0000"/>
<rect x="904" y="499" width="1" height="18" fill="#ff0000"/>
<rect x="914" y="517" width="1" height="3" fill="#008000"/>
<rect x="925" y="517" width="1" height="17" fill="#008000"/>
<rect x="935" y="517" width="1" height="23" fill="#008000"/>
<rect x="946" y="517" width="1" height="25" fill="#008000"/>
<rect x="956" y="517" width="1" height="26" fill="#008000"/>
<rect x="967" y="517" width="1" height="24" fill="#008000"/>
<rect x="977" y="517" width="1" height="20" fill="#008000"/>
<rect x="988" y="517" width="1" height="12" fill="#008000"/>
<rect x="998" y="517" width="1" height="10" fill="#008000"/>
<rect x="1009" y="517" width="1" height="5" fill="#008000"/>
<polyline points="0.03,477.43 50.03,485.73 83.53,493.03 125.23,499.73 180.03,511.43 195.03,514.13 220.13,514.43 245.13,512.43 270.23,510.33 311.93,510.83 328.63,512.43 381.73,511.93 415.13,511.13 436.83,510.33 456.93,505.73 473.63,504.43 490.23,502.43 506.93,501.93 523.43,504.13 551.73,510.33 585.13,515.83 610.23,520.33 636.93,524.43 656.93,524.43 690.03,525.83 710.03,527.03 746.83,529.53 783.53,533.13 806.93,535.33 846.93,534.83 866.73,533.63 900.13,527.03 910.13,526.53 933.53,531.13 966.93,540.33 988.63,545.53 1003.63,547.03 1010.03,549.03 1040.03,549.03 1046.03,546.43 1060.83,546.23" fill="none" stroke="#0000ff" stroke-width="1"/>
<polyline points="0.03,483.53 21.73,488.63 36.73,489.43 43.43,488.03 50.03,489.43 75.13,499.73 86.83,502.43 108.53,505.23 141.93,513.63 158.63,516.43 180.03,518.63 190.03,519.43 211.73,515.83 228.43,511.43 245.13,509.13 261.83,507.43 276.83,507.83 286.93,509.83 303.63,512.43 320.33,514.13 340.03,512.43 363.43,511.43 395.13,510.33 423.53,509.43 440.23,505.73 456.93,500.23 470.23,497.43 486.93,498.63 500.33,500.73 510.03,503.63 526.73,511.93 551.73,518.63 565.13,521.43 580.13,521.43 601.83,525.33 620.23,528.63 646.93,528.13 660.33,526.13 676.93,527.03 696.73,527.83 710.03,530.33 730.13,531.13 750.13,532.53 770.23,535.83 783.53,538.13 810.23,538.13 830.33,535.83 846.93,532.83 870.03,529.53 883.43,524.13 903.43,517.83 913.43,527.03 926.83,538.13 943.53,547.03 950.03,552.03 1020.03,552.03 1033.03,546.43 1047.03,544.53 1060.43,543.13" fill="none" stroke="#000000" stroke-width="1"/>
<rect x="439.5" y="21.5" width="35" height="111" fill="none" stroke="#ff0000" stroke-width="1"/>
<polyline points="473.5,19.5 478.5,19.5 492,24" fill="none" stroke="#0000ff" stroke-width="1"/>
<polyline points="926,390.5 932,387.5 944,385.5" fill="none" stroke="#0000ff" stroke-width="1"/>
<polygon points="564.3,24.9 494.7,51.4 493,47.3 480.1,60.3 498.7,61.6 497.4,57.7" fill="#ff0000" style="shape-rendering:auto"/>
<polygon points="450.8,105 451.8,105 457.6,382.2 461.8,382.1 454,398.2 446.1,383.4 450.1,383.2" fill="#ff0000" style="shape-rendering:auto"/>
<polygon points="397,394 404,394 400.5,389.5" fill="#000000" style="shape-rendering:auto"/>
<rect x="0" y="461" width="4" height="11" fill="#ffffff"/>
<rect x="1066" y="0" width="2" height="547" fill="#8c8c8c"/>
<rect x="1070" y="120" width="8" height="1" fill="#008000"/>
<rect x="1070" y="122" width="8" height="1" fill="#008000"/>
<rect x="1070" y="124" width="8" height="1" fill="#008000"/>
<rect x="1070" y="126" width="8" height="2" fill="#008000"/>
<rect x="1070" y="129" width="8" height="1" fill="#008000"/>
<rect x="1070" y="131" width="8" height="1" fill="#008000"/>
<rect x="1070" y="133" width="8" height="2" fill="#008000"/>
<rect x="1070" y="136" width="8" height="1" fill="#008000"/>
<rect x="1071" y="417" width="7" height="10" fill="#ff0000"/>
<rect x="1071" y="441" width="7" height="10" fill="#ff0000"/>
<rect x="1" y="181" width="1" height="9" fill="#00ffff"/>
</svg>
<div class="cj" style="left:0px;top:2px;color:#000;font-size:13px;line-height:13px">均线</div>
<div class="t" style="left:46px;top:5px;color:#0000ff">Ma5=56.5300</div>
<div class="t" style="left:125px;top:5px;color:#ff0000">Ma10=60.0180</div>
<div class="t" style="left:204px;top:5px;color:#ff00ff">Ma20=52.4790</div>
<div class="t" style="left:283px;top:5px;color:#000000">Ma30=46.7360</div>
<div class="t" style="left:362px;top:5px;color:#008000">Ma60=36.8103</div>
<div class="t" style="left:965px;top:3px;color:#0000ff;font-family:'Liberation Mono',monospace;font-size:11px;transform:scaleY(1.2);transform-origin:0 0">002681</div>
<div class="cj" style="left:1014px;top:3px;color:#0000ff;font-size:12.5px">奋达科技</div>
<div class="cj" style="left:1070px;top:3px;color:#008000">奋</div>
<div class="t" style="left:493px;top:25px;color:#0000ff;letter-spacing:1px">73.8800</div>
<div class="t" style="left:945px;top:378px;color:#0000ff;letter-spacing:1px">24.2200</div>
<div class="t" style="left:-2px;top:461px;color:#000000">=5.78</div>
<div class="t" style="left:52px;top:461px;color:#0000ff">DEA=6.63</div>
<div class="t" style="left:123px;top:461px;color:#ff00ff">MACD=-1.70</div>
<div class="cj" style="left:1069px;top:390px;color:#ff0000">获</div>
<div class="t" style="left:1070px;top:406px;color:#0000ff">10</div>
<div class="t" style="left:1070px;top:430px;color:#0000ff">97</div>
</body></html>
